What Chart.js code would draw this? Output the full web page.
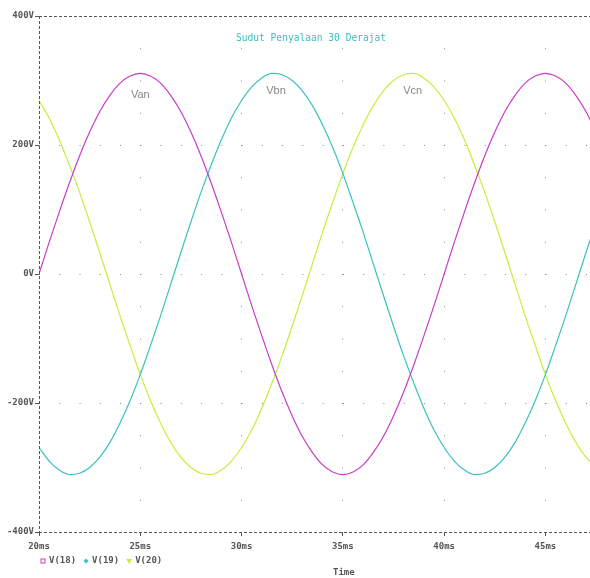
<!DOCTYPE html>
<html>
<head>
<meta charset="utf-8">
<script src="https://cdn.jsdelivr.net/npm/chart.js@4/dist/chart.umd.min.js"></script>
<style>
  body { margin: 0; background: #fff; }
  #box { width: 590px; height: 578px; }
</style>
</head>
<body>
<div id="box"><canvas id="grafico" width="590" height="578"></canvas></div>
<script>
// time axis (ms)
const tempo = [
  20, 20.5, 21, 21.5, 22, 22.5, 23, 23.5, 24, 24.5,
  25, 25.5, 26, 26.5, 27, 27.5, 28, 28.5, 29, 29.5,
  30, 30.5, 31, 31.5, 32, 32.5, 33, 33.5, 34, 34.5,
  35, 35.5, 36, 36.5, 37, 37.5, 38, 38.5, 39, 39.5,
  40, 40.5, 41, 41.5, 42, 42.5, 43, 43.5, 44, 44.5,
  45, 45.5, 46, 46.5, 47, 47.5
];

// V(18) = Van
const van = [
  0, 49, 96, 141, 183, 220, 252, 277, 296, 307,
  311, 307, 296, 277, 252, 220, 183, 141, 96, 49,
  0, -49, -96, -141, -183, -220, -252, -277, -296, -307,
  -311, -307, -296, -277, -252, -220, -183, -141, -96, -49,
  0, 49, 96, 141, 183, 220, 252, 277, 296, 307,
  311, 307, 296, 277, 252, 220
];

// V(19) = Vbn
const vbn = [
  -269, -290, -304, -311, -309, -300, -284, -261, -231, -196,
  -156, -111, -65, -16, 33, 81, 127, 169, 208, 242,
  269, 290, 304, 311, 309, 300, 284, 261, 231, 196,
  156, 111, 65, 16, -33, -81, -127, -169, -208, -242,
  -269, -290, -304, -311, -309, -300, -284, -261, -231, -196,
  -156, -111, -65, -16, 33, 81
];

// V(20) = Vcn
const vcn = [
  269, 242, 208, 169, 127, 81, 33, -16, -65, -111,
  -156, -196, -231, -261, -284, -300, -309, -311, -304, -290,
  -269, -242, -208, -169, -127, -81, -33, 16, 65, 111,
  156, 196, 231, 261, 284, 300, 309, 311, 304, 290,
  269, 242, 208, 169, 127, 81, 33, -16, -65, -111,
  -156, -196, -231, -261, -284, -300
];

const legendas = ["V(18)", "V(19)", "V(20)"];
const cores = ["#c83cc8", "#3cc0c0", "#c4f03c"];
const marcadores = ["square", "diamond", "triangle"];

const rotulos = [
  { texto: "Van", x: 25, y: 277 },
  { texto: "Vbn", x: 31.7, y: 284 },
  { texto: "Vcn", x: 38.45, y: 284 }
];
const titulo = "Sudut Penyalaan 30 Derajat";
const tituloEixoX = "Time";

const yTicks = [-400, -200, 0, 200, 400];
const xTicks = [20, 25, 30, 35, 40, 45];

const mono = "'DejaVu Sans Mono', monospace";

function serie(valores, i) {
  return {
    label: legendas[i],
    data: valores.map((v, k) => ({ x: tempo[k], y: v })),
    borderColor: cores[i],
    borderWidth: 1.2,
    pointRadius: 0,
    cubicInterpolationMode: "monotone",
    fill: false
  };
}

function marcador(ctx, tipo, x, y, cor) {
  ctx.save();
  ctx.strokeStyle = cor;
  ctx.fillStyle = cor;
  ctx.lineWidth = 1;
  ctx.beginPath();
  if (tipo === "square") {
    ctx.strokeRect(x - 2, y - 2, 4, 4);
  } else if (tipo === "diamond") {
    ctx.moveTo(x, y - 2.5); ctx.lineTo(x + 2.5, y); ctx.lineTo(x, y + 2.5); ctx.lineTo(x - 2.5, y);
    ctx.closePath(); ctx.fill();
  } else {
    ctx.moveTo(x - 3, y - 2); ctx.lineTo(x + 3, y - 2); ctx.lineTo(x, y + 3);
    ctx.closePath(); ctx.fill();
  }
  ctx.restore();
}

const extras = {
  id: "extras",
  afterDraw(chart) {
    const { ctx, chartArea: a, scales } = chart;
    const xs = scales.x, ys = scales.y;

    // dashed frame
    ctx.save();
    ctx.strokeStyle = "#555";
    ctx.lineWidth = 1;
    ctx.setLineDash([3, 2]);
    ctx.beginPath();
    ctx.moveTo(a.left, a.top + 0.5); ctx.lineTo(a.right, a.top + 0.5);
    ctx.moveTo(a.left, a.bottom + 0.5); ctx.lineTo(a.right, a.bottom + 0.5);
    ctx.moveTo(a.left + 0.5, a.top); ctx.lineTo(a.left + 0.5, a.bottom);
    ctx.stroke();
    ctx.restore();

    ctx.save();
    ctx.textAlign = "center";
    ctx.textBaseline = "middle";

    ctx.fillStyle = "#3cc0c0";
    ctx.font = "9.6px " + mono;
    ctx.fillText(titulo, 311, 38);

    ctx.fillStyle = "#888";
    ctx.font = "11px 'Liberation Sans', sans-serif";
    rotulos.forEach(r => ctx.fillText(r.texto, xs.getPixelForValue(r.x), ys.getPixelForValue(r.y)));

    // legend
    ctx.font = "bold 9px " + mono;
    ctx.textAlign = "left";
    let lx = 43;
    const ly = 561;
    legendas.forEach((l, i) => {
      marcador(ctx, marcadores[i], lx, ly, cores[i]);
      ctx.fillStyle = "#555";
      ctx.fillText(l, lx + 6, ly);
      lx += ctx.measureText(l).width + 16;
    });

    ctx.textAlign = "center";
    ctx.fillText(tituloEixoX, xs.getPixelForValue(35) + 1, 573);
    ctx.restore();
  }
};

new Chart(document.getElementById("grafico"), {
  type: "line",
  data: {
    datasets: [serie(van, 0), serie(vbn, 1), serie(vcn, 2)]
  },
  options: {
    responsive: false,
    animation: false,
    layout: { padding: { top: 16, right: 0, left: 0, bottom: 0 } },
    plugins: { legend: { display: false }, tooltip: { enabled: false } },
    scales: {
      x: {
        type: "linear",
        min: 20,
        max: 47.2,
        afterBuildTicks: s => { s.ticks = xTicks.map(v => ({ value: v })); },
        afterFit: s => { s.height = 46; },
        ticks: {
          padding: 5,
          color: "#555",
          font: { family: mono, size: 9, weight: "bold" },
          callback: v => v + "ms"
        },
        grid: {
          color: c => (c.tick && c.tick.value === 20) ? "transparent" : "#8a8a8a",
          tickColor: "#555",
          tickLength: 4,
          tickBorderDash: []
        },
        border: { display: false, dash: [1, 31.25] }
      },
      y: {
        min: -400,
        max: 400,
        afterBuildTicks: s => { s.ticks = yTicks.map(v => ({ value: v })); },
        afterFit: s => { s.width = 39; },
        ticks: {
          padding: 1,
          color: "#555",
          font: { family: mono, size: 9, weight: "bold" },
          callback: v => v + "V"
        },
        grid: {
          color: c => (c.tick && Math.abs(c.tick.value) === 400) ? "transparent" : "#8a8a8a",
          tickColor: "#555",
          tickLength: 4,
          tickBorderDash: []
        },
        border: { display: false, dash: [1, 19.26] }
      }
    }
  },
  plugins: [extras]
});
</script>
</body>
</html>
